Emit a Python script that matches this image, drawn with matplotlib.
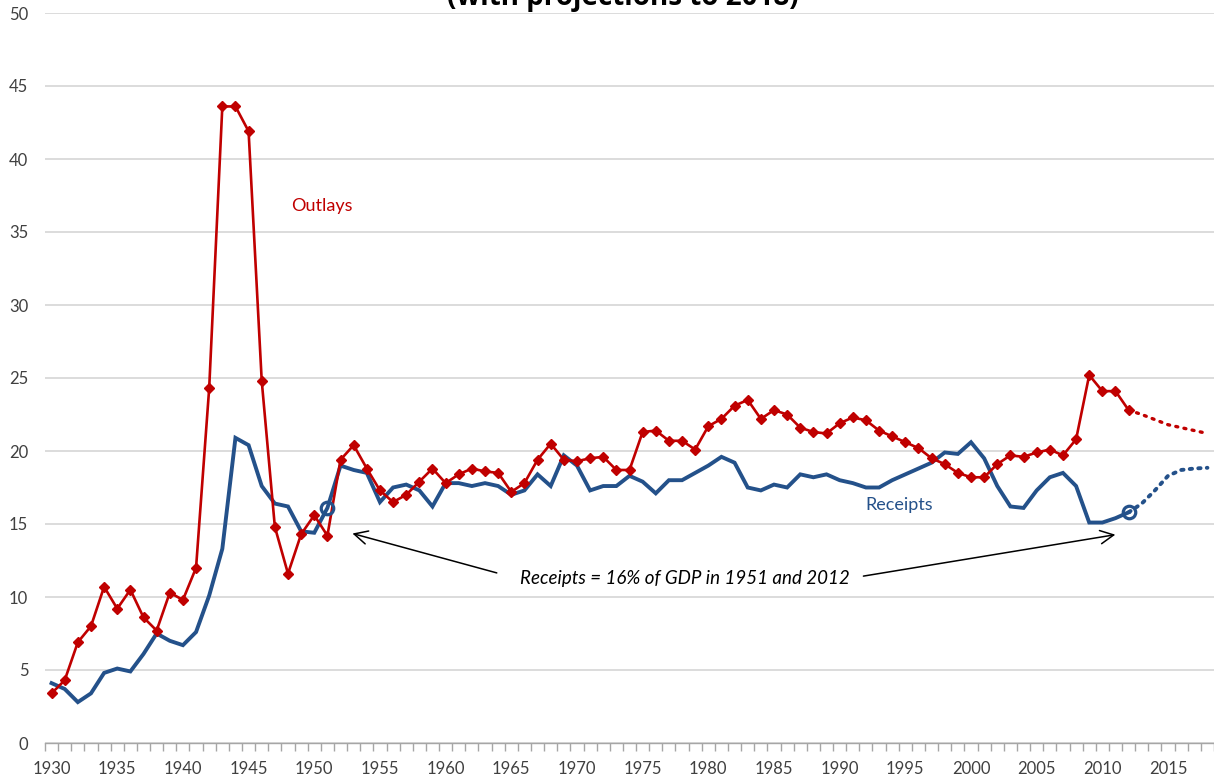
import matplotlib
matplotlib.use("Agg")
import matplotlib.pyplot as plt
import numpy as np

plt.rcParams['font.family'] = ['Lato', 'DejaVu Sans']

years_hist = list(range(1930, 2013))
outlays = [3.4, 4.3, 6.9, 8.0, 10.7, 9.2, 10.5, 8.6, 7.7, 10.3,
           9.8, 12.0, 24.3, 43.6, 43.6, 41.9, 24.8, 14.8, 11.6, 14.3,
           15.6, 14.2, 19.4, 20.4, 18.8, 17.3, 16.5, 17.0, 17.9, 18.8,
           17.8, 18.4, 18.8, 18.6, 18.5, 17.2, 17.8, 19.4, 20.5, 19.4,
           19.3, 19.5, 19.6, 18.7, 18.7, 21.3, 21.4, 20.7, 20.7, 20.1,
           21.7, 22.2, 23.1, 23.5, 22.2, 22.8, 22.5, 21.6, 21.3, 21.2,
           21.9, 22.3, 22.1, 21.4, 21.0, 20.6, 20.2, 19.5, 19.1, 18.5,
           18.2, 18.2, 19.1, 19.7, 19.6, 19.9, 20.1, 19.7, 20.8, 25.2,
           24.1, 24.1, 22.8]
receipts = [4.1, 3.7, 2.8, 3.4, 4.8, 5.1, 4.9, 6.1, 7.5, 7.0,
            6.7, 7.6, 10.1, 13.3, 20.9, 20.4, 17.6, 16.4, 16.2, 14.5,
            14.4, 16.1, 19.0, 18.7, 18.5, 16.5, 17.5, 17.7, 17.3, 16.2,
            17.8, 17.8, 17.6, 17.8, 17.6, 17.0, 17.3, 18.4, 17.6, 19.7,
            19.0, 17.3, 17.6, 17.6, 18.3, 17.9, 17.1, 18.0, 18.0, 18.5,
            19.0, 19.6, 19.2, 17.5, 17.3, 17.7, 17.5, 18.4, 18.2, 18.4,
            18.0, 17.8, 17.5, 17.5, 18.0, 18.4, 18.8, 19.2, 19.9, 19.8,
            20.6, 19.5, 17.6, 16.2, 16.1, 17.3, 18.2, 18.5, 17.6, 15.1,
            15.1, 15.4, 15.8]

years_proj = list(range(2012, 2019))
outlays_proj = [22.8, 22.5, 22.15, 21.8, 21.6, 21.4, 21.2]
receipts_proj = [15.8, 16.4, 17.3, 18.3, 18.7, 18.8, 18.85]

circle_years = [1951, 2012]
circle_vals = [16.1, 15.8]

xtick_years = list(range(1930, 2016, 5))
ytick_vals = list(range(0, 51, 5))

RED = '#C00000'
BLUE = '#24518A'
TXT = '#404040'

fig = plt.figure(figsize=(12.14, 7.82), dpi=100)
ax = fig.add_axes([45/1214, 39/782, 1 - 45/1214, (743-13)/782])

ax.plot(years_hist, receipts, color=BLUE, lw=2.8, solid_joinstyle='miter', zorder=3)
ax.plot(years_proj, receipts_proj, color=BLUE, lw=2.8, ls=(0, (0.6, 1.6)),
        dash_capstyle='round', zorder=3)
ax.plot(years_proj, outlays_proj, color=RED, lw=2.4, ls=(0, (0.6, 1.9)),
        dash_capstyle='round', zorder=4)
ax.plot(years_hist, outlays, color=RED, lw=1.9, marker='D', ms=5,
        mec=RED, mfc=RED, zorder=4)
ax.plot(circle_years, circle_vals, ls='none', marker='o', ms=9, mfc='none',
        mec=BLUE, mew=2.3, zorder=5)

ax.set_xlim(1929.5, 2018.5)
ax.set_ylim(0, 50)

for s in ['top', 'right', 'left']:
    ax.spines[s].set_visible(False)
ax.spines['bottom'].set_color('#a6a6a6')
ax.spines['bottom'].set_linewidth(1.0)

ax.set_yticks(ytick_vals)
ax.yaxis.grid(True, color='#dcdcdc', lw=1.4)
ax.set_axisbelow(True)
ax.tick_params(axis='y', length=0, labelsize=12, labelcolor=TXT, pad=12)

ax.set_xticks(xtick_years)
ax.set_xticks(np.arange(1929.5, 2019, 1.0), minor=True)
ax.tick_params(axis='x', which='major', length=0, labelsize=12, labelcolor=TXT, pad=13)
ax.tick_params(axis='x', which='minor', length=6, color='#a6a6a6', width=1.0, direction='out')

ax.text(1950.6, 36.8, 'Outlays', color=RED, fontsize=13, ha='center', va='center')
ax.text(1994.5, 16.3, 'Receipts', color=BLUE, fontsize=13, ha='center', va='center')
ax.text(1978.2, 11.3, 'Receipts = 16% of GDP in 1951 and 2012', color='black',
        fontsize=13.5, style='italic', ha='center', va='center')
ax.annotate('', xy=(1952.7, 14.4), xytext=(1964.1, 11.6),
            arrowprops=dict(arrowstyle='->', color='black', lw=1.1,
                            mutation_scale=24))
ax.annotate('', xy=(2011.2, 14.3), xytext=(1991.6, 11.4),
            arrowprops=dict(arrowstyle='->', color='black', lw=1.1,
                            mutation_scale=24))

fig.text(0.513, 1 - 5/782, '(with projections to 2018)', fontsize=20,
         fontweight='bold', ha='center', va='baseline', family=['Open Sans', 'DejaVu Sans'])

fig.savefig('out.png', dpi=100)
